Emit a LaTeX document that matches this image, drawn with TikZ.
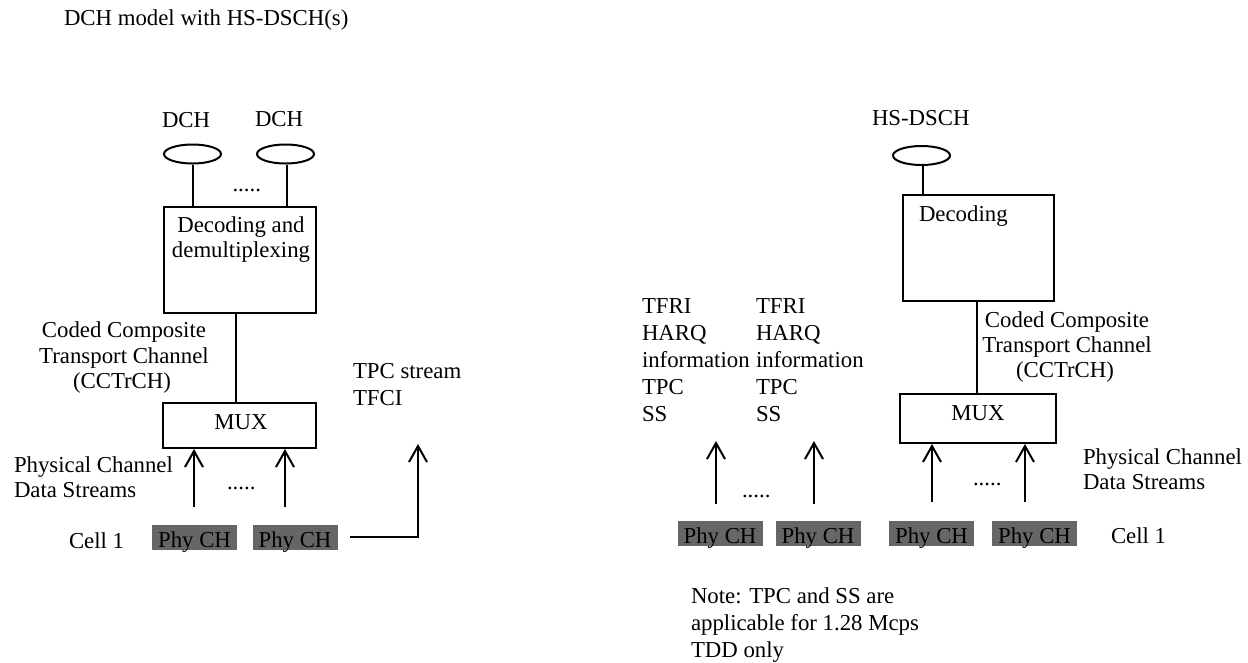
\documentclass[tikz,border=0pt]{standalone}
\usepackage{fontspec}
\setmainfont{Liberation Serif}
\usetikzlibrary{arrows.meta,shapes.geometric,calc}
\definecolor{phygray}{RGB}{102,102,102}
\begin{document}
\begin{tikzpicture}[x=1pt,y=-1pt, line width=2pt,
  txt/.style={inner sep=0pt, font=\fontsize{22.8}{27}\selectfont, anchor=base west},
  txtc/.style={txt, anchor=base},
  box/.style={draw, rectangle, inner sep=0pt},
  chan/.style={draw, ellipse, inner sep=0pt, minimum width=57pt, minimum height=19pt},
  phy/.style={rectangle, fill=phygray, inner sep=0pt, minimum width=85pt, minimum height=25pt,
              text height=20pt, text depth=0pt, font=\fontsize{22.8}{27}\selectfont},
  arr/.style={-{Straight Barb[length=16pt,width=18pt]}}]
\useasboundingbox (0,0) rectangle (1248,662);

% title
\node[txt] (title) at (63,25) {DCH model with HS-DSCH(s)};

% ---------- left part ----------
\node[txt] (ldch1) at (161,127) {DCH};
\node[txt] (ldch2) at (254,126) {DCH};
\node[chan] (e1) at (192.5,154) {};
\node[chan] (e2) at (285.5,154) {};
\node[txt] (dots1) at (231.5,191) {.....};
\node[box, minimum width=152pt, minimum height=106pt] (dec1) at (240,260) {};
\node[txtc] (dec1a) at (241,232) {Decoding and};
\node[txtc] (dec1b) at (241,257) {demultiplexing};
\node[box, minimum width=153pt, minimum height=45pt] (mux1) at (239.5,425.5) {};
\node[txtc] (mux1t) at (241,429) {MUX};

\node[txtc] (cc1a) at (124,337) {Coded Composite};
\node[txtc] (cc1b) at (124,363) {Transport Channel};
\node[txtc] (cc1c) at (122,388) {(CCTrCH)};
\node[txt] (pc1a) at (13,472) {Physical Channel};
\node[txt] (pc1b) at (13,497) {Data Streams};
\node[txt] (cell1) at (68,548) {Cell 1};

\node[phy] (p1) at (194.5,537) {Phy CH};
\node[phy] (p2) at (295,537) {Phy CH};
\node[txt] (dots2) at (226,489) {.....};

\node[txt] (tpc) at (352,378) {TPC stream};
\node[txt] (tfci) at (352,405) {TFCI};
\coordinate (tpcend) at (418,444);

\coordinate (l1) at ($(e1.south)+(0.5,0)$);
\coordinate (l2) at ($(e2.south)+(1.5,0)$);
\draw (l1) -- (l1 |- dec1.north);
\draw (l2) -- (l2 |- dec1.north);
\coordinate (c1) at ($(dec1.south)+(-4,0)$);
\draw (c1) -- (c1 |- mux1.north);
\coordinate (a1) at ($(p1.north)+(-0.5,-17)$);
\coordinate (a2) at ($(p2.north)+(-10,-17)$);
\draw[arr] (a1) -- (a1 |- mux1.south);
\draw[arr] (a2) -- (a2 |- mux1.south);
\draw[arr] ($(p2.east)+(11,0)$) -| (tpcend);

% ---------- right part ----------
\node[txt] (lhs) at (871,125) {HS-DSCH};
\node[chan] (e3) at (921.5,155.5) {};
\node[box, minimum width=151pt, minimum height=106pt] (dec2) at (978.5,248) {};
\node[txt] (dec2t) at (918,221) {Decoding};
\node[box, minimum width=156pt, minimum height=49pt] (mux2) at (978,418.5) {};
\node[txtc] (mux2t) at (978,420) {MUX};

\node[txtc] (cc2a) at (1067,327) {Coded Composite};
\node[txtc] (cc2b) at (1067,352) {Transport Channel};
\node[txtc] (cc2c) at (1065,377) {(CCTrCH)};
\node[txt] (pc2a) at (1082,464) {Physical Channel};
\node[txt] (pc2b) at (1082,489) {Data Streams};
\node[txt] (cell2) at (1110,543) {Cell 1};

\node[txt] (fa1) at (641,313) {TFRI};
\node[txt] (fa2) at (641,340) {HARQ};
\node[txt] (fa3) at (641,367) {information};
\node[txt] (fa4) at (641,394) {TPC};
\node[txt] (fa5) at (641,421) {SS};
\node[txt] (fb1) at (755,313) {TFRI};
\node[txt] (fb2) at (755,340) {HARQ};
\node[txt] (fb3) at (755,367) {information};
\node[txt] (fb4) at (755,394) {TPC};
\node[txt] (fb5) at (755,421) {SS};

\node[phy] (p3) at (720,533.5) {Phy CH};
\node[phy] (p4) at (818,533.5) {Phy CH};
\node[phy] (p5) at (931.5,533.5) {Phy CH};
\node[phy] (p6) at (1034.5,533.5) {Phy CH};
\node[txt] (dots3) at (741,497) {.....};
\node[txt] (dots4) at (972,485) {.....};

\node[txt] (note1) at (690,603) {Note: TPC and SS are};
\node[txt] (note2) at (690,630) {applicable for 1.28 Mcps};
\node[txt] (note3) at (690,657) {TDD only};

\coordinate (s1) at (716,441);
\coordinate (s2) at (814,441);

\coordinate (l3) at ($(e3.south)+(1.5,0)$);
\draw (l3) -- (l3 |- dec2.north);
\coordinate (c2) at ($(dec2.south)+(-1.5,0)$);
\draw (c2) -- (c2 |- mux2.north);
\coordinate (a3) at ($(p3.north)+(-4,-16)$);
\coordinate (a4) at ($(p4.north)+(-4,-16)$);
\coordinate (a5) at ($(p5.north)+(0.5,-18)$);
\coordinate (a6) at ($(p6.north)+(-9.5,-18)$);
\draw[arr] (a3) -- (a3 |- s1);
\draw[arr] (a4) -- (a4 |- s2);
\draw[arr] (a5) -- (a5 |- mux2.south);
\draw[arr] (a6) -- (a6 |- mux2.south);
\end{tikzpicture}
\end{document}
